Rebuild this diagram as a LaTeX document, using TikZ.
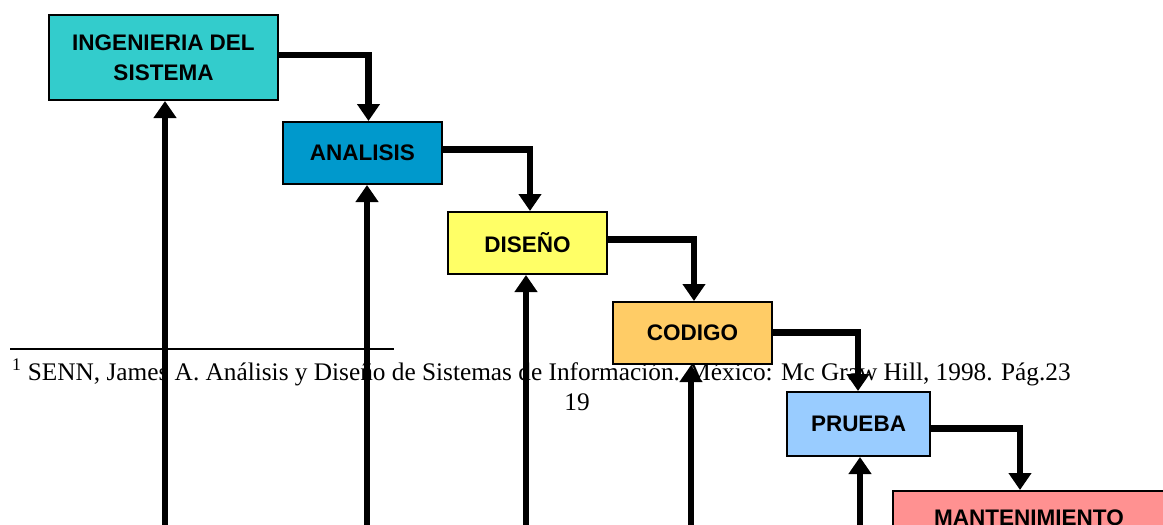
\documentclass[tikz,border=0pt]{standalone}
\usepackage{fontspec}
\setmainfont{Liberation Serif}
\newfontfamily\boxfont{Liberation Sans}
\usetikzlibrary{arrows.meta}
\definecolor{cIng}{HTML}{33CCCC}
\definecolor{cAna}{HTML}{0099CC}
\definecolor{cDis}{HTML}{FFFF66}
\definecolor{cCod}{HTML}{FFCC66}
\definecolor{cPru}{HTML}{99CCFF}
\definecolor{cMan}{HTML}{FF9191}
\begin{document}
\begin{tikzpicture}[x=1pt,y=-1pt,
  stage/.style={draw=black, line width=2pt, inner sep=0pt,
    font=\boxfont\bfseries\fontsize{22.5}{30}\selectfont, align=center},
  flow/.style={line width=6.5pt, -{Triangle[width=22pt,length=17pt]}},
  foot/.style={inner sep=0pt, font=\fontsize{25.3}{30}\selectfont},
]
\useasboundingbox (0,0) rectangle (1163,525);
\clip (0,0) rectangle (1163,525);
% footnote and page number
\node[foot, anchor=base west] (fn) at (12,380) {\textsuperscript{1} SENN, James A. Análisis y Diseño de Sistemas de Información. México: Mc Graw Hill, 1998. Pág.23};
\node[foot, anchor=base] (pg) at (577,410) {19};
\coordinate (r1) at (10,349);
\coordinate (r2) at (394,349);
\draw[line width=1.5pt] (r1) -- (r2);
% stages
\node[stage, fill=cIng, minimum width=229pt, minimum height=85pt] (b1) at (163.5,57.5) {INGENIERIA DEL\\SISTEMA};
\node[stage, fill=cAna, minimum width=159pt, minimum height=62pt] (b2) at (362.5,153) {ANALISIS};
\node[stage, fill=cDis, minimum width=159pt, minimum height=62pt] (b3) at (527.5,243) {DISEÑO};
\node[stage, fill=cCod, minimum width=159pt, minimum height=62pt] (b4) at (692.5,333) {CODIGO};
\node[stage, fill=cPru, minimum width=143pt, minimum height=64pt] (b5) at (858.5,424) {PRUEBA};
\node[stage, fill=cMan, anchor=north, minimum width=272pt, inner ysep=19pt] (b6) at (1029,490) {MANTENIMIENTO};
% forward flow
\draw[flow] ([yshift=2.5pt]b1.east) -| ([xshift=6pt]b2.north);
\draw[flow] ([yshift=3.5pt]b2.east) -| ([xshift=2.5pt]b3.north);
\draw[flow] ([yshift=3.5pt]b3.east) -| ([xshift=1.5pt]b4.north);
\draw[flow] ([yshift=0.5pt]b4.east) -| ([xshift=-0.5pt]b5.north);
\draw[flow] ([yshift=-4.5pt]b5.east) -| ([xshift=-9pt]b6.north);
% feedback
\coordinate (u1) at (165,535);
\coordinate (u2) at (367,535);
\coordinate (u3) at (526,535);
\coordinate (u4) at (691,535);
\coordinate (u5) at (860,535);
\draw[flow] (u1) -- (u1 |- b1.south);
\draw[flow] (u2) -- (u2 |- b2.south);
\draw[flow] (u3) -- (u3 |- b3.south);
\draw[flow] (u4) -- (u4 |- b4.south);
\draw[flow] (u5) -- (u5 |- b5.south);
\end{tikzpicture}
\end{document}
